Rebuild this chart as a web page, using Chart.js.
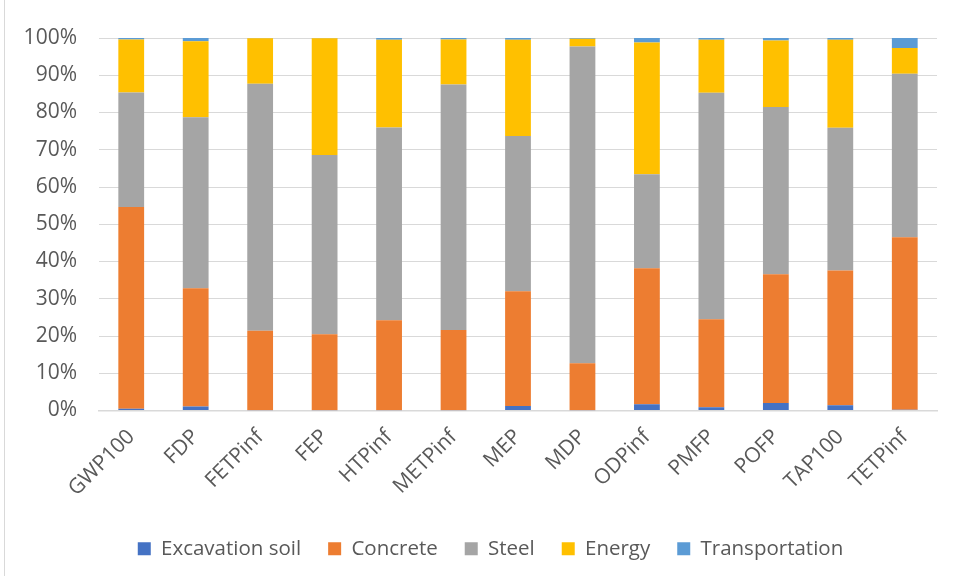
<!DOCTYPE html>
<html>
<head>
<meta charset="utf-8">
<script src="https://cdn.jsdelivr.net/npm/chart.js@4"></script>
<style>
  html, body { margin: 0; padding: 0; background: #fff; }
  #wrap { position: relative; width: 955px; height: 576px; }
  #frame { position: absolute; left: 4px; top: 0; bottom: 0; border-left: 1px solid #d9d9d9; }
</style>
</head>
<body>
<div id="wrap">
  <div id="frame"></div>
  <canvas id="impactChart" width="955" height="576"></canvas>
</div>
<script>
// impact categories on the x axis
var categories = ['GWP100', 'FDP', 'FETPinf', 'FEP', 'HTPinf', 'METPinf', 'MEP', 'MDP', 'ODPinf', 'PMFP', 'POFP', 'TAP100', 'TETPinf'];

// share of each contributor per category (%)
var excavationSoil = [0.45, 1.1, 0.1, 0.1, 0.1, 0.1, 1.2, 0.1, 1.7, 0.9, 2.0, 1.4, 0.2];
var concrete       = [54.15, 31.7, 21.3, 20.4, 24.1, 21.5, 30.8, 12.6, 36.5, 23.6, 34.6, 36.2, 46.3];
var steel          = [30.8, 45.9, 66.3, 48.1, 51.8, 65.9, 41.7, 85.0, 25.2, 60.8, 44.9, 38.3, 43.9];
var energy         = [14.2, 20.4, 12.2, 31.3, 23.5, 12.1, 25.8, 2.1, 35.4, 14.2, 17.8, 23.6, 6.9];
var transportation = [0.4, 0.9, 0.1, 0.1, 0.5, 0.4, 0.5, 0.2, 1.2, 0.5, 0.7, 0.5, 2.7];

var yTicks = [0, 10, 20, 30, 40, 50, 60, 70, 80, 90, 100];

var fontFamily = "'Open Sans', 'Liberation Sans', sans-serif";
var textColor = '#595959';

function makeSet(label, data, color) {
    return {
        label: label,
        data: data,
        backgroundColor: color,
        borderWidth: 0,
        barPercentage: 0.4,
        categoryPercentage: 1.0
    };
}

// nudge the legend to the right so it sits under the plot rather than the canvas
var legendShift = {
    id: 'legendShift',
    afterLayout: function (chart) {
        chart.legend.left += 22;
        chart.legend.right += 22;
    }
};

var ctx = document.getElementById('impactChart').getContext('2d');
var impactChart = new Chart(ctx, {
    type: 'bar',
    data: {
        labels: categories,
        datasets: [
            makeSet('Excavation soil', excavationSoil, '#4472C4'),
            makeSet('Concrete', concrete, '#ED7D31'),
            makeSet('Steel', steel, '#A5A5A5'),
            makeSet('Energy', energy, '#FFC000'),
            makeSet('Transportation', transportation, '#5B9BD5')
        ]
    },
    plugins: [legendShift],
    options: {
        responsive: false,
        animation: false,
        layout: {
            padding: { left: 0, right: 18, top: 38, bottom: 7 }
        },
        plugins: {
            tooltip: { enabled: false },
            legend: {
                position: 'bottom',
                labels: {
                    boxWidth: 13,
                    boxHeight: 13,
                    padding: 27,
                    color: textColor,
                    font: { family: fontFamily, size: 20.5 }
                }
            }
        },
        scales: {
            x: {
                stacked: true,
                grid: { display: false },
                border: { color: '#d9d9d9', width: 1.5 },
                ticks: {
                    color: textColor,
                    font: { family: fontFamily, size: 21 },
                    maxRotation: 45,
                    minRotation: 45,
                    padding: 6
                },
                afterFit: function (axis) { axis.height = 101; }
            },
            y: {
                stacked: true,
                min: 0,
                max: 100,
                afterBuildTicks: function (axis) {
                    axis.ticks = yTicks.map(function (v) { return { value: v }; });
                },
                grid: { color: '#d9d9d9', lineWidth: 1, drawTicks: false },
                border: { display: false },
                ticks: {
                    color: textColor,
                    font: { family: fontFamily, size: 21 },
                    padding: 22,
                    callback: function (v) { return v + '%'; }
                },
                afterFit: function (axis) { axis.width = 99; }
            }
        }
    }
});
</script>
</body>
</html>
